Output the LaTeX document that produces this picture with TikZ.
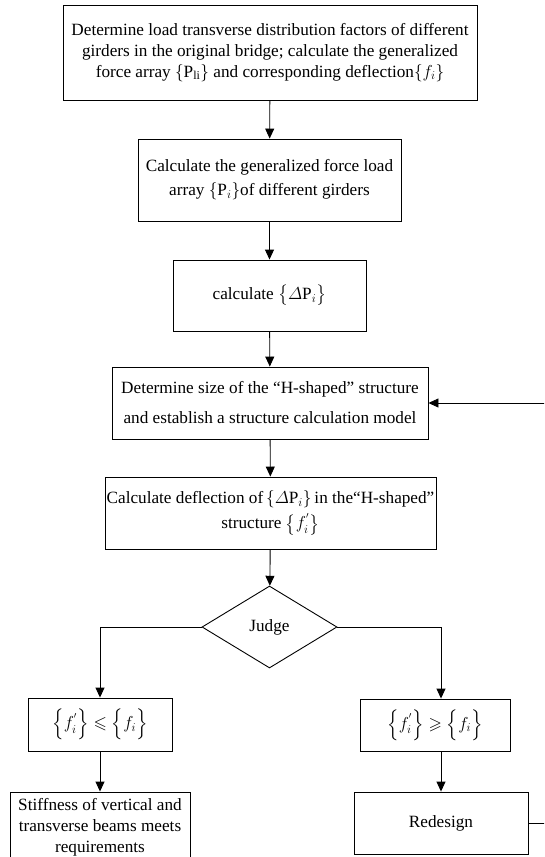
\documentclass[tikz,border=0pt]{standalone}
\usepackage{amsmath,amssymb}
\usepackage{fontspec}
\setmainfont{Liberation Serif}
\usetikzlibrary{arrows.meta, shapes.geometric}

\begin{document}
\begin{tikzpicture}
[x=1pt, y=-1pt, line width=0.9pt, >={Triangle[length=10pt, width=9pt]},
 every node/.style={color=black, font=\fontsize{17.2}{21}\selectfont},
 process/.style={draw, rectangle, inner sep=0pt, align=center},
 decision/.style={draw, diamond, inner sep=0pt, minimum width=135pt, minimum height=82pt}]
    \useasboundingbox (0,0) rectangle (544,857);
    \clip (0,0) rectangle (544,857);
    \node[process, minimum width=414pt, minimum height=95pt] (factors) at (270,52.5) {Determine load transverse distribution factors of different\\girders in the original bridge; calculate the generalized\\force array $\{\mathrm{P}_{\mathrm{li}}\}$ and corresponding deflection$\{f_i\}$};
    \node[process, minimum width=263pt, minimum height=82pt, font=\fontsize{17.2}{24}\selectfont] (force) at (269.5,180) {Calculate the generalized force load\\array $\left\{\mathrm{P}_i\right\}$of different girders};
    \node[process, minimum width=193pt, minimum height=71pt] (delta) at (269.5,295.5) {calculate $\bigl\{\varDelta\mathrm{P}_i\bigr\}$};
    \node[process, minimum width=316pt, minimum height=72pt, font=\fontsize{17.2}{30}\selectfont] (model) at (270,403) {Determine size of the “H-shaped” structure\\and establish a structure calculation model};
    \node[process, minimum width=331pt, minimum height=72pt, font=\fontsize{17.2}{25}\selectfont] (deflect) at (270.5,513) {Calculate deflection of\,$\{\varDelta\mathrm{P}_i\}$\,in the“H-shaped”\\structure $\left\{f_i^{'}\right\}$};
    \node[decision] (judge) at (269.5,627) {Judge};
    \node[process, minimum width=144pt, minimum height=53pt] (le) at (100,724.5) {$\Bigl\{f_i^{'}\Bigr\}\leqslant\Bigl\{f_i\Bigr\}$};
    \node[process, minimum width=150pt, minimum height=52pt] (ge) at (435,725) {$\Bigl\{f_i^{'}\Bigr\}\geqslant\Bigl\{f_i\Bigr\}$};
    \node[process, minimum width=180pt, minimum height=70pt] (stiff) at (100,827) {Stiffness of vertical and\\transverse beams meets\\requirements};
    \node[process, minimum width=174pt, minimum height=62pt] (redesign) at (441,823) {Redesign};
    \coordinate (loop) at (560,823);
    \draw[->] (factors) -- (force);
    \draw[->] (force) -- (delta);
    \draw[->] (delta) -- (model);
    \draw[->] (model) -- (deflect);
    \draw[->] (deflect) -- (judge);
    \draw[->] (judge.west) -| (le.north);
    \draw[->] (judge.east) -| ([xshift=6pt]ge.north);
    \draw[->] (le) -- (stiff);
    \draw[->] ([xshift=6pt]ge.south) -- (redesign);
    \draw[->] (redesign.east) -- (loop) |- (model.east);
\end{tikzpicture}
\end{document}
